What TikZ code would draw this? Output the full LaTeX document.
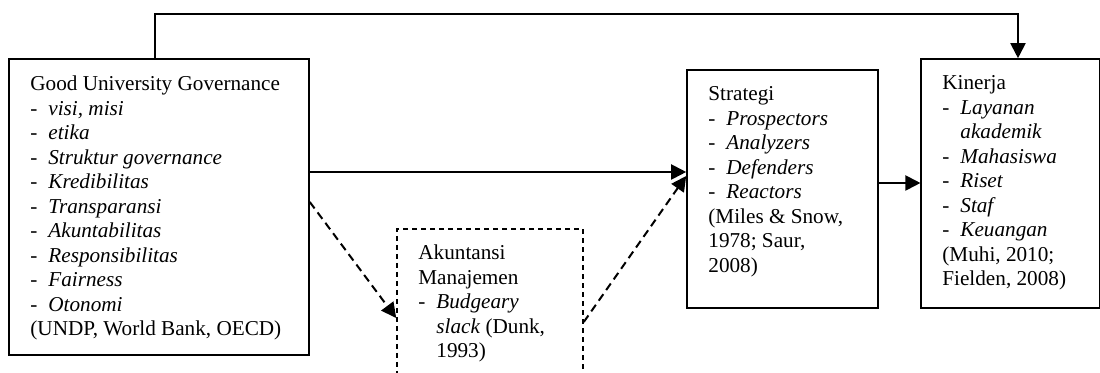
\documentclass[tikz,border=0pt]{standalone}
\usepackage{fontspec}
\setmainfont{Liberation Serif}
\usetikzlibrary{arrows.meta}
\newcommand{\itm}[1]{\makebox[9pt][l]{-}\textit{#1}}
\newcommand{\hindent}{\hspace*{9pt}}
\begin{document}
\begin{tikzpicture}[x=0.5pt,y=-0.5pt,
  box/.style={draw, line width=0.8pt, rectangle, inner sep=0pt},
  dbox/.style={box, dash pattern=on 2.5pt off 2pt},
  conn/.style={line width=1pt, -{Triangle[length=7.5pt,width=7.5pt]}},
  dconn/.style={conn, dash pattern=on 4pt off 2.5pt},
  txt/.style={anchor=base west, inner sep=0pt, font=\fontsize{10.6}{12.25}\selectfont}]
\useasboundingbox (0,0) rectangle (1100,373);

% boxes
\node[box, minimum width=150pt, minimum height=148pt] (gug) at (159,207) {};
\node[box, minimum width=95.5pt, minimum height=119pt] (str) at (782.5,189) {};
\node[box, minimum width=89.5pt, minimum height=124.5pt] (kin) at (1010.75,183.5) {};
\node[dbox, minimum width=93pt, minimum height=76pt] (ak) at (490,305) {};

% texts
\node[txt] (gugt) at (30,90.7) {\parbox[t]{140pt}{Good University Governance\\
\itm{visi, misi}\\
\itm{etika}\\
\itm{Struktur governance}\\
\itm{Kredibilitas}\\
\itm{Transparansi}\\
\itm{Akuntabilitas}\\
\itm{Responsibilitas}\\
\itm{Fairness}\\
\itm{Otonomi}\\
(UNDP, World Bank, OECD)}};

\node[txt] (strt) at (708,101) {\parbox[t]{90pt}{Strategi\\
\itm{Prospectors}\\
\itm{Analyzers}\\
\itm{Defenders}\\
\itm{Reactors}\\
(Miles \& Snow,\\
1978; Saur,\\
2008)}};

\node[txt] (kint) at (942,90) {\parbox[t]{80pt}{Kinerja\\
\itm{Layanan}\\
\hindent\textit{akademik}\\
\itm{Mahasiswa}\\
\itm{Riset}\\
\itm{Staf}\\
\itm{Keuangan}\\
(Muhi, 2010;\\
Fielden, 2008)}};

\node[txt] (akt) at (418,260) {\parbox[t]{80pt}{Akuntansi\\
Manajemen\\
\itm{Budgeary}\\
\hindent\textit{slack} (Dunk,\\
\hindent 1993)}};

% helper coordinates
\coordinate (topL) at (155,14);
\coordinate (topR) at (1018,14);
\coordinate (m1) at (0,172);
\coordinate (d1) at (0,202);
\coordinate (d2) at (0,318);
\coordinate (d3) at (0,322);
\coordinate (d4) at (0,176);
\coordinate (m2) at (0,183);

% connectors
\draw[conn] (gug.north -| topL) -- (topL) -- (topR) -- (kin.north -| topR);
\draw[conn] (gug.east |- m1) -- (str.west |- m1);
\draw[dconn] (gug.east |- d1) -- (ak.west |- d2);
\draw[dconn] (ak.east |- d3) -- (str.west |- d4);
\draw[conn] (str.east |- m2) -- (kin.west |- m2);
\end{tikzpicture}
\end{document}
